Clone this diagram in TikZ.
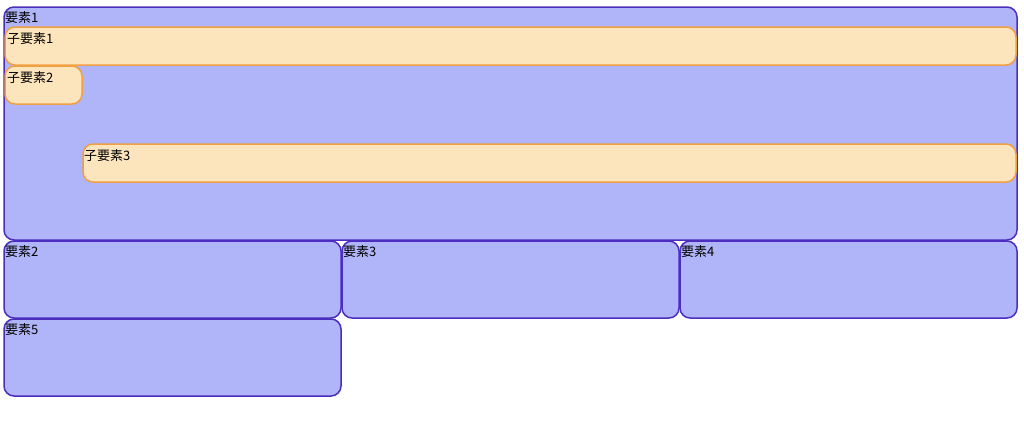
\documentclass[tikz,border=0pt]{standalone}
\usepackage{fontspec}
\newfontfamily\jpfont{Noto Sans CJK JP}
\definecolor{boxfill}{HTML}{B0B4F8}
\definecolor{boxline}{HTML}{4B2EC0}
\definecolor{subfill}{HTML}{FCE4BC}
\definecolor{subline}{HTML}{F0A043}
\tikzset{
  elem/.style={fill=boxfill, draw=boxline, line width=1.5pt, rounded corners=10pt},
  subelem/.style={fill=subfill, draw=subline, line width=1.5pt, rounded corners=10pt},
  lbl/.style={anchor=base west, inner sep=0pt, font=\jpfont\fontsize{13pt}{15pt}\selectfont, text=black}
}
\begin{document}
\begin{tikzpicture}[x=1pt,y=-1pt]
\useasboundingbox (0,0) rectangle (1024,426);
% element 1
\draw[elem] (4,7) rectangle (1017,240);
\node[lbl] (t1) at (5,22) {要素1};
\draw[subelem] (5,27) rectangle (1016,65);
\node[lbl] (s1) at (7,43) {子要素1};
\draw[subelem] (5,66) rectangle (82,104);
\node[lbl] (s2) at (7,82) {子要素2};
\draw[subelem] (83,144) rectangle (1016,182);
\node[lbl] (s3) at (84,160) {子要素3};
% elements 2-4
\draw[elem] (4,241) rectangle (341,318);
\node[lbl] (t2) at (5,256) {要素2};
\draw[elem] (342,241) rectangle (679,318);
\node[lbl] (t3) at (343,256) {要素3};
\draw[elem] (680,241) rectangle (1017,318);
\node[lbl] (t4) at (681,256) {要素4};
% element 5
\draw[elem] (4,319) rectangle (341,396);
\node[lbl] (t5) at (5,334) {要素5};
\end{tikzpicture}
\end{document}
